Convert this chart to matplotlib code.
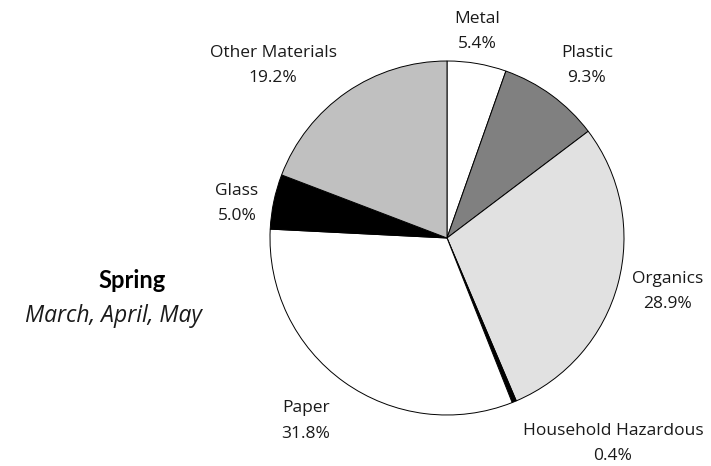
import matplotlib.pyplot as plt

# Spring waste composition, percent of total
materials = ['Metal', 'Plastic', 'Organics', 'Household Hazardous',
             'Paper', 'Glass', 'Other Materials']
shares = [5.4, 9.3, 28.9, 0.4, 31.8, 5.0, 19.2]
fills = ['#ffffff', '#808080', '#e1e1e1', '#000000',
         '#ffffff', '#000000', '#c0c0c0']

# label anchors: centre x and first-line baseline (pixels from top-left)
label_x = [477, 587, 668, 613, 306, 237, 273]
label_y = [23, 57, 283, 435, 412, 195, 57]

W, H = 711, 466
fig = plt.figure(figsize=(W / 100, H / 100), dpi=100)
ax = fig.add_axes([0, 0, 1, 1])

ax.pie(shares, colors=fills, startangle=90, counterclock=False,
       center=(447, H - 238), radius=177,
       wedgeprops=dict(edgecolor='black', linewidth=0.7), frame=True)

font = 'Open Sans'
for name, val, x, y in zip(materials, shares, label_x, label_y):
    ax.text(x, H - y, name, ha='center', va='baseline', fontsize=12.5,
            family=font, color='#1a1a1a')
    ax.text(x, H - y - 25.5, f'{val:.1f}%', ha='center', va='baseline',
            fontsize=12.5, family=font, color='#1a1a1a')

ax.text(132, H - 288, 'Spring', ha='center', va='baseline', fontsize=17,
        fontweight='bold', family='Lato', color='black')
ax.text(113, H - 322, 'March, April, May', ha='center', va='baseline',
        fontsize=16.5, style='italic', family=font, color='#1a1a1a')

ax.set_xlim(0, W)
ax.set_ylim(0, H)
ax.set_aspect('equal')
ax.axis('off')

fig.savefig('out.png', dpi=100)
